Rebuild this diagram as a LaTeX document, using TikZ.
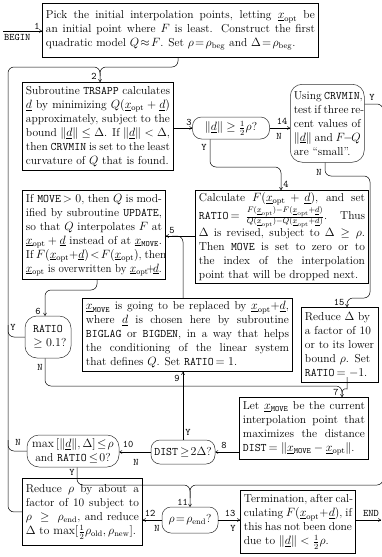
\documentclass[tikz,border=0pt]{standalone}
\usepackage{graphicx}
\usetikzlibrary{arrows.meta,calc}
\newcommand\J[1]{\makebox[\hsize][s]{\spaceskip=0pt\xspaceskip=0pt #1}\\}
\newcommand\LL[1]{\makebox[\hsize][l]{\spaceskip=0pt\xspaceskip=0pt #1}}
\newcommand\FIT[1]{\resizebox{\hsize}{\height}{\spaceskip=0pt\xspaceskip=0pt #1}}
\newcommand\Xopt{\underline{x}_{\mathrm{opt}}}
\newcommand\Xmv{\underline{x}_{\mathtt{MOVE}}}
\newcommand\Ud{\underline{d}}
\newcommand\Nd{\|\underline{d}\|}
\begin{document}
\begin{tikzpicture}[x=1pt,y=-1pt,
  font=\fontsize{11.5}{14}\selectfont,
  box/.style={draw,line width=0.9pt,anchor=north west,inner xsep=3.5pt,inner ysep=2pt,align=left},
  dec/.style={draw=black!80,line width=0.5pt,rounded corners=9pt,align=center,inner sep=1pt},
  conn/.style={line width=0.5pt,rounded corners=6pt},
  lab/.style={font=\ttfamily\fontsize{10}{12}\selectfont,inner sep=0pt},
  >={To[length=3pt,width=3.4pt]}
]
\fill[white] (0,0) rectangle (381,557);
\useasboundingbox (0,0) rectangle (381,557);

% boxes
\node[box,text width=269pt,minimum height=54pt] (b1) at (42,3) {%
\J{Pick the initial interpolation points, letting $\Xopt$ be}
\J{an initial point where $F$ is least. Construct the first}
\LL{quadratic model $Q\!\approx\! F$. Set $\rho\!=\!\rho_{\mathrm{beg}}$ and $\Delta\!=\!\rho_{\mathrm{beg}}$.}};

\node[box,text width=144pt,minimum height=88pt] (b2) at (22,82) {%
\J{Subroutine \texttt{TRSAPP} calculates}
\J{$\Ud$ by minimizing $Q(\Xopt+\Ud)$}
\J{approximately, subject to the}
\J{bound $\Nd\le\Delta$. If $\Nd<\Delta$,}
\J{then \texttt{CRVMIN} is set to the least}
\LL{curvature of $Q$ that is found.}};

\node[box,draw=black!80,line width=0.5pt,rounded corners=12pt,text width=67pt,minimum height=78pt] (b14) at (290,84) {%
\J{Using \texttt{CRVMIN},}
\J{test if three re-}
\J{cent values of}
\J{$\Nd$ and $F\!-\!Q$}
\LL{are ``small''.}};

\node[box,text width=166pt,minimum height=89pt] (b4) at (195,190) {%
\J{Calculate $F(\Xopt+\Ud)$, and set}
\J{\texttt{RATIO}$\,=\!\frac{F(\Xopt)-F(\Xopt+\Ud)}{Q(\Xopt)-Q(\Xopt+\Ud)}$. Thus}
\J{$\Delta$ is revised, subject to $\Delta\ge\rho$.}
\J{Then \texttt{MOVE} is set to zero or to}
\J{the index of the interpolation}
\LL{point that will be dropped next.}};

\node[box,text width=136pt,minimum height=89pt] (b5) at (22,190) {%
\J{If \texttt{MOVE}$\,>0$, then $Q$ is mod-}
\J{ified by subroutine \texttt{UPDATE},}
\J{so that $Q$ interpolates $F$ at}
\J{$\Xopt+\Ud$ instead of at $\Xmv$.}
\J{If $F(\Xopt{+}\Ud)\!<\!F(\Xopt)$, then}
\FIT{$\Xopt$ is overwritten by $\Xopt\!{+}\!\Ud$.}};

\node[box,text width=203pt,minimum height=73pt] (b9) at (82,298) {%
\J{$\Xmv$ is going to be replaced by $\Xopt{+}\Ud$,}
\J{where $\Ud$ is chosen here by subroutine}
\J{\texttt{BIGLAG} or \texttt{BIGDEN}, in a way that helps}
\J{the conditioning of the linear system}
\LL{that defines $Q$. Set \texttt{RATIO}$\,=1$.}};

\node[box,text width=70pt,minimum height=75pt] (b15) at (301,307) {%
Reduce $\Delta$ by\\
a factor of 10\\
or to its lower\\
bound $\rho$. Set\\
\texttt{RATIO}$\,=-1$.};

\node[box,text width=122pt,minimum height=62pt] (b7) at (239,397) {%
\J{Let $\Xmv$ be the current}
\J{interpolation point that}
\J{maximizes the distance}
\LL{\texttt{DIST}$\,=\|\Xmv-\Xopt\|$.}};

\node[box,text width=113pt,minimum height=67pt] (b12) at (22,478) {%
\J{Reduce $\rho$ by about a}
\J{factor of 10 subject to}
\J{$\rho\ \ge\ \rho_{\mathrm{end}}$, and reduce}
\LL{$\Delta$ to $\max[\frac12\rho_{\mathrm{old}},\rho_{\mathrm{new}}]$.}};

\node[box,text width=108pt,minimum height=63pt] (b13) at (240,490) {%
\J{Termination, after cal-}
\J{culating $F(\Xopt+\Ud)$, if}
\J{this has not been done}
\LL{due to $\Nd<\frac12\rho$.}};

% decisions
\node[dec,minimum width=77pt,minimum height=22pt] (d3) at (231,128) {$\Nd\ge\frac12\rho$?};
\node[dec,rounded corners=12pt,minimum width=46pt,minimum height=42pt] (d6) at (48,337) {\texttt{RATIO}\\ $\ \ge0.1$?};
\node[dec,minimum width=64pt,minimum height=24pt] (d8) at (183,452) {\texttt{DIST}$\,\ge\!2\Delta$?};
\node[dec,rounded corners=12pt,minimum width=92pt,minimum height=32pt] (d10) at (73,451) {$\max\,[\Nd,\Delta]\!\le\!\rho$\\ and \texttt{RATIO}$\,\le\!0$?};
\node[dec,minimum width=56pt,minimum height=26pt] (d11) at (190,520) {$\rho\!=\!\rho_{\mathrm{end}}$?};

% BEGIN / END
\coordinate (begin) at (3,31);
\draw[conn,->] (begin) -- (begin -| b1.west);
\node[lab,anchor=north west] (tbegin) at (4,34) {BEGIN};
\node[lab] (l1) at (37,26) {1};
\coordinate (endpt) at (381,520);
\draw[conn,->] (b13.east |- endpt) -- (endpt);
\node[lab,anchor=south east] (tend) at (379,517) {END};

% rail and entry to box 2
\draw[conn,->] (b12.west) -| (8,67) -| (b2.north -| 100,0);
\draw[conn] (b1.south -| 178,0) |- (100,67) -- (100,76);
\node[lab] (l2) at (94,76) {2};

% 3, 14
\draw[conn,->] (d3.west -| b2.east) -- (d3.west);
\node[lab] (l3) at (189,122) {3};
\draw[conn,->] (d3.east) -- (d3.east -| b14.west);
\node[lab] (l14) at (282,121) {14};
\node[lab] (n3) at (279,136) {N};

% 3 Y -> 4
\draw[conn,->] (d3.south -| 210,0) |- (281,167) -- (b4.north -| 281,0);
\node[lab] (y3) at (204,147) {Y};
\node[lab] (l4) at (286,184) {4};

% 14 N -> 15
\draw[conn,->] (b14.south -| 325,0) |- (370,176) |- (347,298) -- (b15.north -| 347,0);
\node[lab] (n14) at (319,172) {N};
\node[lab] (l15) at (339,302) {15};

% 14 Y -> 11
\draw[conn] (b14.east |- 0,104) -| (383,485) -- (190,485) -- (190,498);
\node[lab] (y14) at (372,97) {Y};

% 4 -> 5, 9 -> 5
\draw[conn,->] (b4.west |- 0,236) -- (b5.east |- 0,236);
\draw[conn] (b9.north -| 183,0) |- (172,236);
\node[lab] (l5) at (172,230) {5};

% 5 -> 6
\draw[conn,->] (b5.south -| 97,0) |- (45,290) -- (d6.north -| 45,0);
\node[lab] (l6) at (38,311) {6};

% 6 Y -> rail, 6 N -> 7
\draw[conn] (d6.west) -| (8,325);
\node[lab] (y6) at (13,327) {Y};
\draw[conn,->] (d6.south -| 45,0) |- (342,386) -- (b7.north -| 342,0);
\node[lab] (n6) at (40,367) {N};
\draw[conn] (b15.south -| 347,0) -- (347,383) .. controls (347,389) and (342,387) .. (342,394);
\node[lab] (l7) at (336,392) {7};

% 8 Y -> 9
\draw[conn,->] (d8.north) -- (b9.south -| d8.north);
\node[lab] (y8) at (188,432) {Y};
\node[lab] (l9) at (177,378) {9};

% 7 -> 8 -> 10
\draw[conn,->] (d8.east -| b7.west) -- (d8.east);
\node[lab] (l8) at (224,445) {8};
\draw[conn,->] (d8.west) -- (d8.west -| d10.east);
\node[lab] (l10) at (128,444) {10};
\node[lab] (n8) at (136,462) {N};

% 10 N -> rail, 10 Y -> 11
\draw[conn] (d10.west) -| (8,440);
\node[lab] (n10) at (18,442) {N};
\draw[conn,->] (d10.south -| 77,0) |- (190,485) -- (d11.north);
\node[lab] (y10) at (72,472) {Y};
\node[lab,anchor=south east] (l11) at (188,506) {11};

% 11 -> 12, 11 -> 13
\draw[conn,->] (d11.west) -- (d11.west -| b12.east);
\node[lab] (l12) at (150,513) {12};
\node[lab] (n11) at (157,528) {N};
\draw[conn,->] (d11.east) -- (d11.east -| b13.west);
\node[lab] (l13) at (230,513) {13};
\node[lab] (y11) at (233,528) {Y};
\end{tikzpicture}
\end{document}
